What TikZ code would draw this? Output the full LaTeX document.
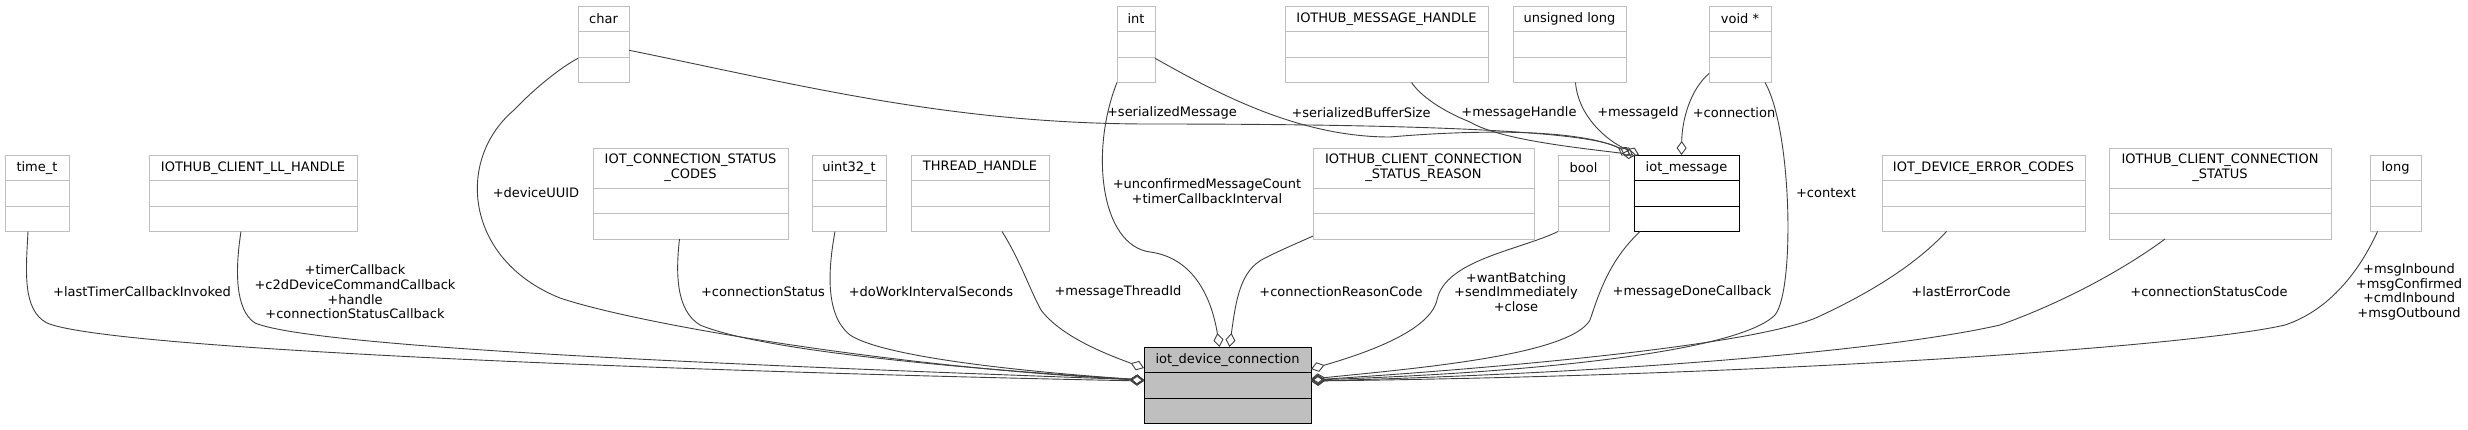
\documentclass[tikz,border=0pt]{standalone}
\usepackage{fontspec}
\setmainfont{DejaVu Sans}
\usepackage{tikz}
\usetikzlibrary{arrows.meta}

\definecolor{grey75}{HTML}{BFBFBF}
\definecolor{grey25}{HTML}{404040}
\newcommand{\umlfont}{\fontsize{13pt}{14.7pt}\selectfont}
% class box: style, name, west x, top y, east x, title height, title
\newcommand{\umlclass}[7]{%
	\node[#1, anchor=north west, minimum width={#5pt-#3pt}, minimum height={#6pt+51pt}] (#2) at (#3,#4) {};
	\draw[#1, fill=none] ([yshift=-#6pt]#2.north west) -- ([yshift=-#6pt]#2.north east);
	\draw[#1, fill=none] ([yshift={-#6pt-25.5pt}]#2.north west) -- ([yshift={-#6pt-25.5pt}]#2.north east);
	\node[font=\umlfont, align=center] at ([yshift={-#6pt/2}]#2.north) {#7};
}

\begin{document}
\begin{tikzpicture}[x=1pt, y=-1pt,
		member/.style={draw=grey75, line width=1pt, inner sep=0pt, outer sep=0pt},
		plainbox/.style={draw=black, line width=1pt, inner sep=0pt, outer sep=0pt},
		focusbox/.style={draw=black, fill=grey75, line width=1pt, inner sep=0pt, outer sep=0pt},
		agg/.style={draw=grey25, line width=0.9pt, {Diamond[open, length=14pt, width=10pt]}-},
		lbl/.style={font=\umlfont, align=center, inner sep=0pt}]
		
		\useasboundingbox (0,0) rectangle (2468,429);
		
		% classes
		\umlclass{member}{timet}{5}{155}{69}{25.5}{time\_t}
		\umlclass{member}{llhandle}{149}{155}{357}{25.5}{IOTHUB\_CLIENT\_LL\_HANDLE}
		\umlclass{member}{chr}{578}{6}{629}{25.5}{char}
		\umlclass{member}{statuscodes}{593}{148}{788}{40}{IOT\_CONNECTION\_STATUS\\\_CODES}
		\umlclass{member}{uintt}{812}{155}{886}{25.5}{uint32\_t}
		\umlclass{member}{thread}{911}{155}{1049}{25.5}{THREAD\_HANDLE}
		\umlclass{member}{intt}{1117}{6}{1155}{25.5}{int}
		\umlclass{focusbox}{iotdc}{1144}{347}{1311}{25.5}{iot\_device\_connection}
		\umlclass{member}{msghandle}{1285}{6}{1488}{25.5}{IOTHUB\_MESSAGE\_HANDLE}
		\umlclass{member}{ulong}{1513}{6}{1626}{25.5}{unsigned long}
		\umlclass{member}{voidp}{1709}{6}{1771}{25.5}{void *}
		\umlclass{member}{reason}{1313}{148}{1534}{40}{IOTHUB\_CLIENT\_CONNECTION\\\_STATUS\_REASON}
		\umlclass{member}{boolt}{1558}{155}{1609}{25.5}{bool}
		\umlclass{plainbox}{iotmsg}{1634}{155}{1739}{25.5}{iot\_message}
		\umlclass{member}{errcodes}{1882}{155}{2085}{25.5}{IOT\_DEVICE\_ERROR\_CODES}
		\umlclass{member}{connstatus}{2109}{148}{2331}{40}{IOTHUB\_CLIENT\_CONNECTION\\\_STATUS}
		\umlclass{member}{longt}{2370}{155}{2421}{25.5}{long}
		
		% members of iot_device_connection, left side
		\draw[agg] ([yshift=-34pt]iotdc.north west) .. controls (700,372) and (110,350) .. (47,323) .. controls (22,310) and (26,270) .. ([xshift=-9pt]timet.south);
		\draw[agg] ([yshift=-33pt]iotdc.north west) .. controls (820,368) and (320,350) .. (255,323) .. controls (235,310) and (235,270) .. ([xshift=-12pt]llhandle.south);
		\draw[agg] ([yshift=-33pt]iotdc.north west) .. controls (900,368) and (640,325) .. (560,298) .. controls (465,260) and (455,160) .. (514,110) .. controls (535,88) and (560,68) .. ([yshift=-14pt]chr.west);
		\draw[agg] ([yshift=-33pt]iotdc.north west) .. controls (950,368) and (760,350) .. (700,325) .. controls (675,310) and (676,270) .. ([xshift=-11pt]statuscodes.south);
		\draw[agg] ([yshift=-33pt]iotdc.north west) .. controls (1000,370) and (880,355) .. (850,335) .. controls (825,315) and (828,270) .. ([xshift=-14pt]uintt.south);
		\draw[agg] ([yshift=-21pt]iotdc.north west) .. controls (1100,352) and (1060,335) .. (1041,310) .. controls (1030,290) and (1020,260) .. ([xshift=22pt]thread.south);
		
		% top
		\draw[agg] ([xshift=-8pt]iotdc.north) .. controls (1212,300) and (1195,258) .. (1150,252) .. controls (1100,245) and (1090,150) .. (intt.south west);
		\draw[agg] ([xshift=2pt]iotdc.north) .. controls (1236,300) and (1240,270) .. (1265,258) .. controls (1285,248) and (1300,242) .. ([yshift=3pt]reason.south west);
		
		% right side
		\draw[agg] ([yshift=-22pt]iotdc.north east) .. controls (1370,352) and (1430,330) .. (1437,300) .. controls (1445,260) and (1520,250) .. (boolt.south west);
		\draw[agg] ([yshift=-32pt]iotdc.north east) .. controls (1420,368) and (1570,355) .. (1590,320) .. controls (1600,290) and (1610,260) .. ([xshift=6pt]iotmsg.south west);
		\draw[agg] ([yshift=-33pt]iotdc.north east) .. controls (1550,372) and (1740,350) .. (1775,315) .. controls (1795,290) and (1792,130) .. ([xshift=25pt]voidp.south);
		\draw[agg] ([yshift=-33pt]iotdc.north east) .. controls (1500,368) and (1760,345) .. (1820,316) .. controls (1880,288) and (1920,260) .. ([xshift=-37pt]errcodes.south);
		\draw[agg] ([yshift=-34pt]iotdc.north east) .. controls (1650,372) and (1900,348) .. (2000,325) .. controls (2070,300) and (2130,265) .. ([xshift=-55pt]connstatus.south);
		\draw[agg] ([yshift=-34pt]iotdc.north east) .. controls (1800,375) and (2200,345) .. (2285,325) .. controls (2330,310) and (2360,270) .. ([xshift=-18pt]longt.south);
		
		% members of iot_message
		\draw[agg] ([xshift=-4pt]iotmsg.north west) .. controls (1590,130) and (1400,124) .. (1150,124) .. controls (950,124) and (800,85) .. ([yshift=-6pt]chr.east);
		\draw[agg] ([xshift=-1pt]iotmsg.north west) .. controls (1580,128) and (1470,130) .. (1390,137) .. controls (1300,137) and (1220,95) .. ([yshift=-14pt]intt.east);
		\draw[agg] ([xshift=2pt]iotmsg.north west) .. controls (1580,148) and (1500,140) .. (1470,122) .. controls (1440,110) and (1420,95) .. ([xshift=25pt]msghandle.south);
		\draw[agg] ([xshift=5pt]iotmsg.north west) .. controls (1605,140) and (1578,115) .. ([xshift=6pt]ulong.south);
		\draw[agg] ([xshift=-5pt]iotmsg.north) .. controls (1682,120) and (1690,90) .. ([yshift=9pt]voidp.south west);
		
		% labels
		\node[lbl] (l-timet) at (142,292) {+lastTimerCallbackInvoked};
		\node[lbl] (l-llhandle) at (355,292) {+timerCallback\\+c2dDeviceCommandCallback\\+handle\\+connectionStatusCallback};
		\node[lbl] (l-chr) at (536,193) {+deviceUUID};
		\node[lbl] (l-statuscodes) at (763,292) {+connectionStatus};
		\node[lbl] (l-uintt) at (931,292) {+doWorkIntervalSeconds};
		\node[lbl] (l-thread) at (1118,292) {+messageThreadId};
		\node[lbl] (l-intt) at (1207,191) {+unconfirmedMessageCount\\+timerCallbackInterval};
		\node[lbl] (l-reason) at (1341,292) {+connectionReasonCode};
		\node[lbl] (l-boolt) at (1516,292) {+wantBatching\\+sendImmediately\\+close};
		\node[lbl] (l-iotmsg) at (1692,292) {+messageDoneCallback};
		\node[lbl] (l-voidp) at (1826,193) {+context};
		\node[lbl] (l-errcodes) at (1961,292) {+lastErrorCode};
		\node[lbl] (l-connstatus) at (2209,292) {+connectionStatusCode};
		\node[lbl] (l-longt) at (2409,292) {+msgInbound\\+msgConfirmed\\+cmdInbound\\+msgOutbound};
		\node[lbl] (l-serial) at (1172,113) {+serializedMessage};
		\node[lbl] (l-bufsize) at (1361,113) {+serializedBufferSize};
		\node[lbl] (l-msghandle) at (1519,113) {+messageHandle};
		\node[lbl] (l-msgid) at (1638,113) {+messageId};
		\node[lbl] (l-conn) at (1734,113) {+connection};
	\end{tikzpicture}
\end{document}
